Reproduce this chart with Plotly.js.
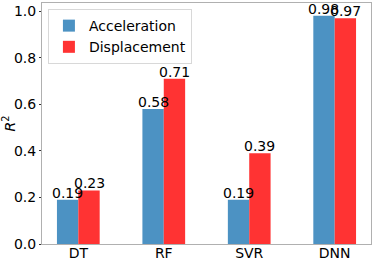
<!DOCTYPE html>
<html><head><meta charset="utf-8">
<script src="https://cdn.plot.ly/plotly-3.0.1.min.js"></script>
<style>html,body{margin:0;padding:0;background:#fff}#c{width:374px;height:262px}</style>
</head><body><div id="c"></div>
<script>
const categories = ["DT", "RF", "SVR", "DNN"];
const acceleration = [0.19, 0.58, 0.19, 0.98];
const displacement = [0.23, 0.71, 0.39, 0.97];
const seriesNames = ["Acceleration", "Displacement"];
const yTicks = [0.0, 0.2, 0.4, 0.6, 0.8, 1.0];

const font = {family: "DejaVu Sans", size: 14, color: "#000"};
const colors = ["#4c92c3", "#ff3333"];
const series = [acceleration, displacement];
const traces = series.map((vals, i) => ({
  type: "bar", x: categories, y: vals, name: seriesNames[i],
  marker: {color: colors[i]}, hoverinfo: "none"
}));

// value labels on top of each bar (through the axes)
const barShiftPx = 10.7;
const annotations = [];
series.forEach((vals, i) => {
  vals.forEach((v, j) => {
    annotations.push({x: categories[j], y: v, xref: "x", yref: "y",
      text: v.toFixed(2), showarrow: false, yanchor: "bottom", xanchor: "center",
      xshift: (i === 0 ? -1 : 1) * barShiftPx, yshift: -3, font: font});
  });
});

const layout = {
  width: 374, height: 262,
  margin: {l: 42, r: 3, t: 3, b: 18, pad: 0},
  paper_bgcolor: "#fff", plot_bgcolor: "#fff",
  font: font,
  barmode: "group", bargap: 0.5, bargroupgap: 0,
  showlegend: true,
  legend: {x: 0.018, y: 0.975, xanchor: "left", yanchor: "top",
    bgcolor: "#fff", bordercolor: "#d8d8d8", borderwidth: 1,
    font: {family: "DejaVu Sans", size: 14, color: "#000"}, itemwidth: 30,
    tracegroupgap: 2},
  annotations: annotations,
  xaxis: {range: [-0.425, 3.425], showgrid: false, zeroline: false,
    showline: true, mirror: true, linecolor: "#b0b0b0", linewidth: 1,
    ticks: "", tickfont: font, ticklabelstandoff: -4},
  yaxis: {range: [0, 1.035], showgrid: false, zeroline: false,
    showline: true, mirror: true, linecolor: "#b0b0b0", linewidth: 1,
    ticks: "outside", ticklen: 2, tickcolor: "#333", tickfont: font,
    tickvals: yTicks, ticktext: yTicks.map(v => v.toFixed(1)),
    title: {text: "<i>R</i><sup>2</sup>", font: font, standoff: 6}}
};
Plotly.newPlot("c", traces, layout, {displayModeBar: false, staticPlot: true});
</script></body></html>
